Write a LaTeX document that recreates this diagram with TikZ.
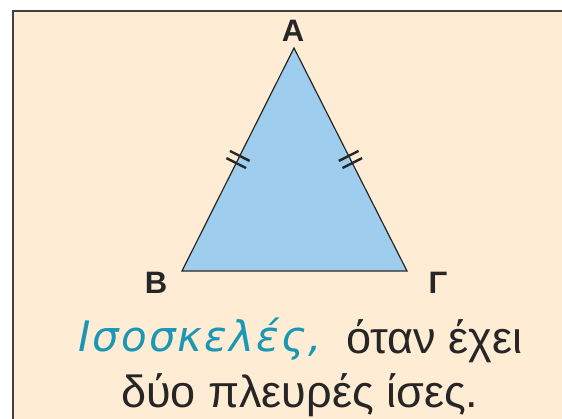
\documentclass[tikz,border=0pt]{standalone}
\usepackage{fontspec}
\setmainfont{Liberation Sans}
\newfontfamily\handfont[LetterSpace=5]{DejaVu Sans}
\usepackage{xcolor}
\usetikzlibrary{decorations.markings}

\definecolor{cream}{HTML}{FEEDD4}
\definecolor{triblue}{HTML}{9ECDEE}
\definecolor{teal}{HTML}{1A97B4}

\begin{document}
\begin{tikzpicture}[x=1pt, y=-1pt,
  frame/.style={draw=black!75, line width=2pt, fill=cream},
  tri/.style={draw=black!85, line width=1.2pt, fill=triblue, line join=miter},
  vlbl/.style={font=\bfseries\fontsize{31}{31}\selectfont, text=black!85, inner sep=0pt},
  txt/.style={font=\fontsize{45}{45}\selectfont, text=black!85, inner sep=0pt, anchor=base west},
  hand/.style={txt, font=\handfont\itshape\fontsize{42}{42}\selectfont, text=teal},
  ticks/.style={postaction={decorate, decoration={markings,
    mark=at position 0.5 with {
      \draw[line width=2.4pt, black!85] (-4pt,-11pt) -- (-4pt,11pt);
      \draw[line width=2.4pt, black!85] (4pt,-11pt) -- (4pt,11pt);}}}}
]
\useasboundingbox (0,0) rectangle (562,419);
\path[frame] (13,11) rectangle (580,440);

\coordinate (A) at (294,48);
\coordinate (B) at (182,271);
\coordinate (G) at (407,271);

\path[tri] (A) -- (B) -- (G) -- cycle;
\path[ticks] (B) -- (A);
\path[ticks] (A) -- (G);

\node[vlbl] (lA) at (293,31)  {A};
\node[vlbl] (lB) at (156,283) {B};
\node[vlbl] (lG) at (438,283) {Γ};

\node[hand] (name) at (78,352)  {Ισοσκελές,};
\node[txt]  (when) at (346,353) {όταν έχει};
\node[txt]  (rule) at (121,407) {δύο πλευρές ίσες.};
\end{tikzpicture}
\end{document}
